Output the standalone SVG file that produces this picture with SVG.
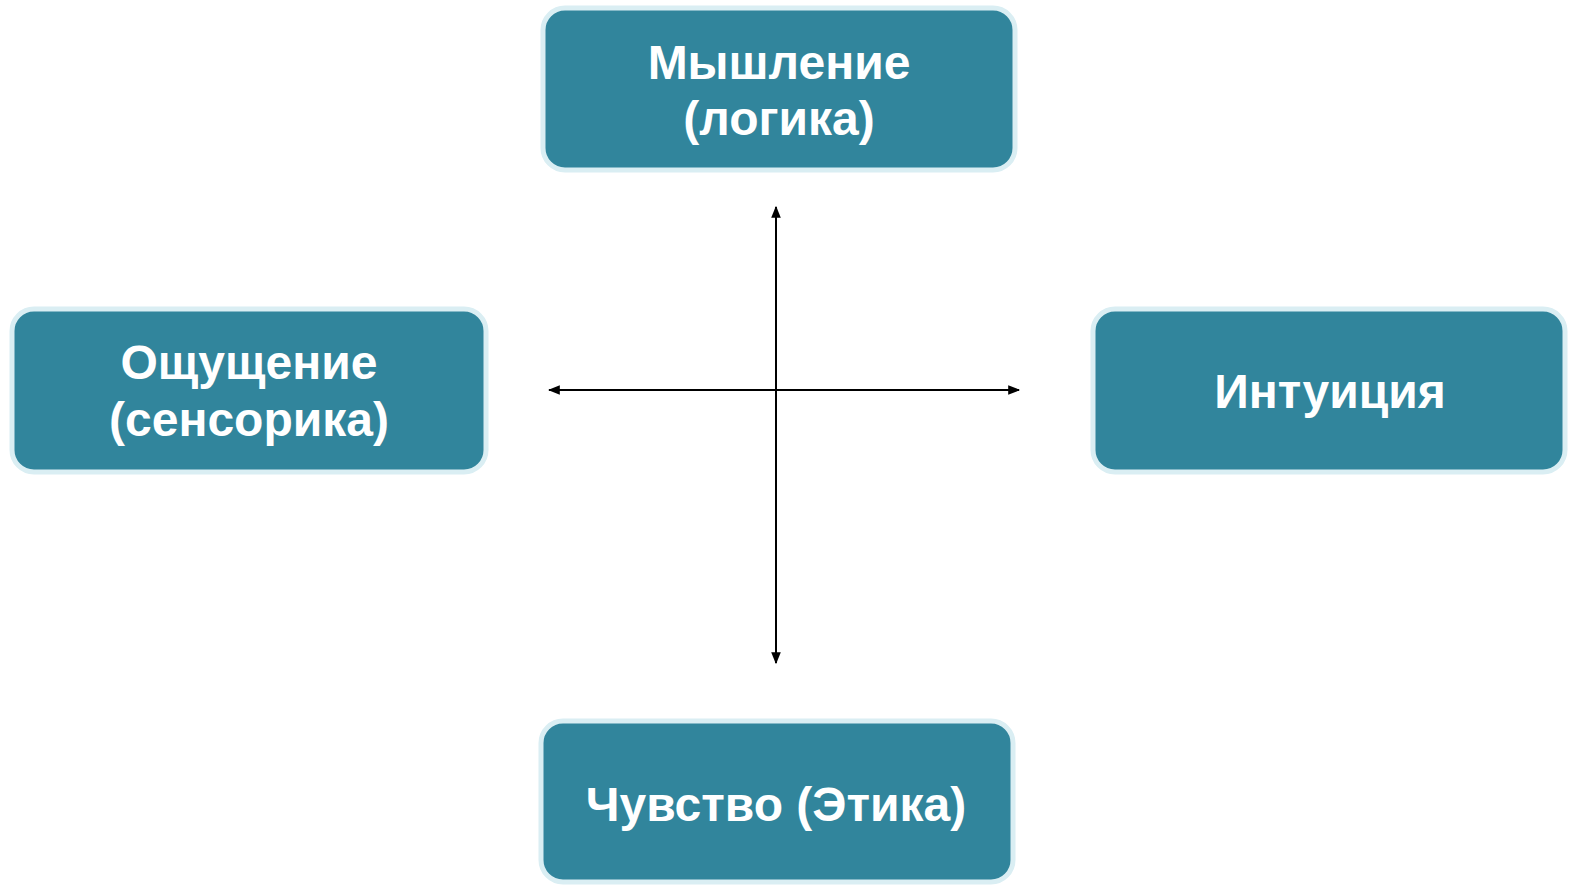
<svg xmlns="http://www.w3.org/2000/svg" width="1578" height="890" viewBox="0 0 1578 890">
<style>
.box{fill:#31859c;stroke:#daeef3;stroke-width:5}
.lbl{font-family:"Liberation Sans",Arial,sans-serif;font-weight:bold;font-size:48px;fill:#fff;text-anchor:middle}
.ax{stroke:#000;stroke-width:2;fill:none}
</style>
<defs>
<marker id="ah" viewBox="0 0 10 10" refX="9" refY="5" markerWidth="6" markerHeight="6" orient="auto-start-reverse" markerUnits="strokeWidth">
<path d="M0,1 L10,5 L0,9 Z" fill="#000"/>
</marker>
</defs>
<rect width="1578" height="890" fill="#fff"/>
<g id="connectors">
<line class="ax" x1="776" y1="207" x2="776" y2="663" marker-start="url(#ah)" marker-end="url(#ah)"/>
<line class="ax" x1="549" y1="390" x2="1019" y2="390" marker-start="url(#ah)" marker-end="url(#ah)"/>
</g>
<g id="node-thinking">
<rect class="box" x="543" y="8" width="472" height="162" rx="22"/>
<text class="lbl" x="779" y="79">Мышление</text>
<text class="lbl" x="779" y="135">(логика)</text>
</g>
<g id="node-sensation">
<rect class="box" x="12" y="309" width="474" height="163" rx="22"/>
<text class="lbl" x="249" y="379">Ощущение</text>
<text class="lbl" x="249" y="436">(сенсорика)</text>
</g>
<g id="node-intuition">
<rect class="box" x="1093" y="309" width="472" height="163" rx="22"/>
<text class="lbl" x="1330" y="408">Интуиция</text>
</g>
<g id="node-feeling">
<rect class="box" x="541" y="721" width="472" height="161" rx="22"/>
<text class="lbl" x="776" y="821">Чувство (Этика)</text>
</g>
</svg>
